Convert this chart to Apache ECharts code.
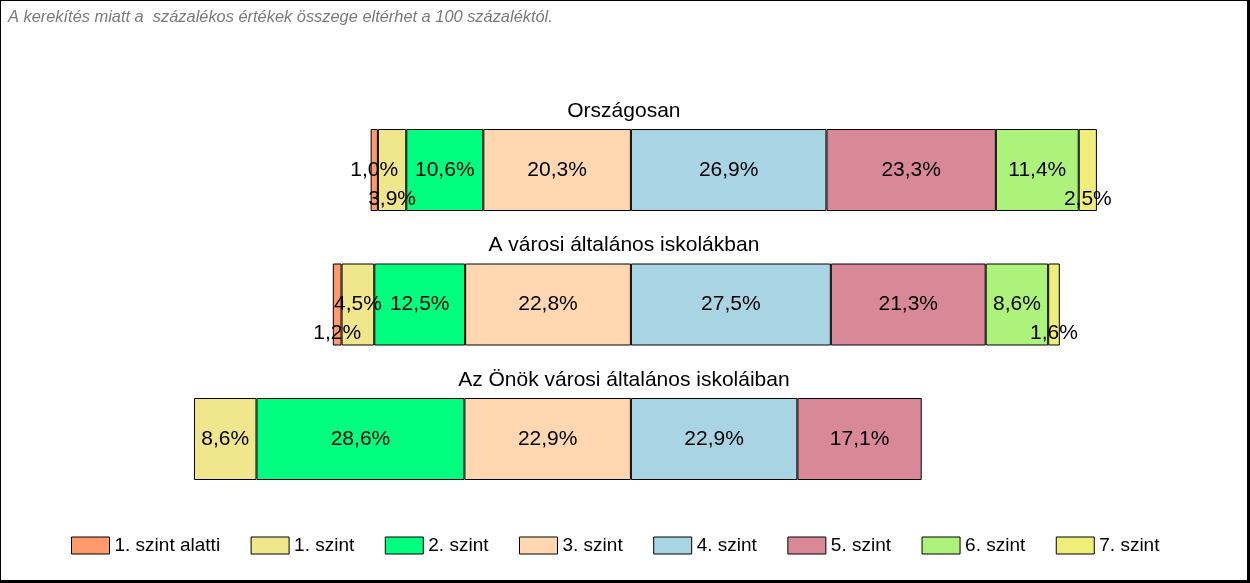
<!DOCTYPE html>
<html>
<head>
<meta charset="utf-8">
<script src="https://cdn.jsdelivr.net/npm/echarts@6/dist/echarts.min.js"></script>
<style>
  html, body { margin: 0; padding: 0; background: #fff; }
  #wrap { position: relative; width: 1250px; height: 583px; }
  #chart { position: absolute; left: 0; top: 0; width: 1250px; height: 583px; }
  #frame { position: absolute; left: 0; top: 0; width: 1250px; height: 583px; box-sizing: border-box;
           border-style: solid; border-color: #000; border-width: 1px 3px 3px 1px; pointer-events: none; }
</style>
</head>
<body>
<div id="wrap"><div id="chart"></div><div id="frame"></div></div>
<script>
// ---- data ----
const groups = ['Országosan', 'A városi általános iskolákban', 'Az Önök városi általános iskoláiban'];
const levels = ['1. szint alatti', '1. szint', '2. szint', '3. szint', '4. szint', '5. szint', '6. szint', '7. szint'];
const below1 = [1.0, 1.2, null];
const level1 = [3.9, 4.5, 8.6];
const level2 = [10.6, 12.5, 28.6];
const level3 = [20.3, 22.8, 22.9];
const level4 = [26.9, 27.5, 22.9];
const level5 = [23.3, 21.3, 17.1];
const level6 = [11.4, 8.6, null];
const level7 = [2.5, 1.6, null];
const note = 'A kerekítés miatt a  százalékos értékek összege eltérhet a 100 százaléktól.';

// ---- style ----
const colors = ['#FF9A6C', '#F0E68C', '#00FF7F', '#FFD8B2', '#A9D4E4', '#D98898', '#ADF27A', '#EFEE7A'];
const values = [below1, level1, level2, level3, level4, level5, level6, level7];
const leftSide = [true, true, true, true, false, false, false, false];
// labels that are pushed below the centre line to avoid overlapping (level index, group index)
const lowered = [[1, 0], [7, 0], [0, 1], [7, 1]];
const font = "'Liberation Sans', Arial, sans-serif";

function fmt(v) { return Math.abs(v).toFixed(1).replace('.', ',') + '%'; }

// series order: left side from centre outward, then right side
const order = [3, 2, 1, 0, 4, 5, 6, 7];
const series = order.map(li => ({
  name: levels[li],
  type: 'bar',
  stack: 'all',
  barWidth: 82,
  itemStyle: { color: colors[li], borderColor: '#000', borderWidth: 1 },
  label: {
    show: true, position: 'inside', color: '#000', fontSize: 21, fontFamily: font,
    formatter: p => fmt(p.value)
  },
  emphasis: { disabled: true },
  data: values[li].map((v, gi) => {
    if (v === null) return null;
    const item = { value: leftSide[li] ? -v : v };
    if (lowered.some(([a, b]) => a === li && b === gi)) item.label = { offset: [0, 29] };
    return item;
  })
}));

const chart = echarts.init(document.getElementById('chart'), null, { renderer: 'canvas' });
chart.setOption({
  animation: false,
  backgroundColor: '#fff',
  title: {
    text: note, left: 3, top: 4,
    textStyle: { fontSize: 16.4, fontStyle: 'italic', fontWeight: 'normal', color: '#7a7a7a',
                 fontFamily: "'Liberation Sans Narrow', 'Liberation Sans', Arial, sans-serif" }
  },
  grid: { left: 122, right: 37.5, top: 102.75, height: 403.5, containLabel: false },
  xAxis: { type: 'value', min: -70, max: 80, show: false },
  yAxis: { type: 'category', data: groups, inverse: true, show: false },
  legend: {
    data: levels, left: 66, top: 531, itemWidth: 38, itemHeight: 17, itemGap: 30.5, icon: 'rect',
    itemStyle: { borderColor: '#000', borderWidth: 1 },
    textStyle: { fontSize: 19, color: '#000', fontFamily: font },
    selectedMode: false
  },
  series: series
});

// group titles above each bar, centred near the zero line
const titles = groups.map(g => {
  const p = chart.convertToPixel({ gridIndex: 0 }, [0, g]);
  return {
    type: 'text', x: p[0] - 7, y: p[1] - 59,
    style: { text: g, fontSize: 21, fontFamily: font, fill: '#000', align: 'center', verticalAlign: 'middle' }
  };
});
chart.setOption({ graphic: titles });
</script>
</body>
</html>
